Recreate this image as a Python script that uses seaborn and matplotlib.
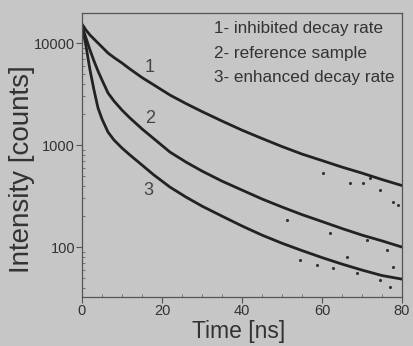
import numpy as np
import pandas as pd
import matplotlib
matplotlib.use("Agg")
import matplotlib.pyplot as plt
import matplotlib.ticker as mticker
import seaborn as sns

# ---- data ----
t1 = [0, 1, 2, 3, 4, 5, 6.5, 8, 10, 12, 15, 18, 22, 26, 30, 35, 40, 45, 50, 55, 60, 65, 70, 75, 80]
i1 = [15350, 13400, 11970, 10940, 10000, 9140, 7980, 7210, 6370, 5560, 4590, 3875, 3090,
      2550, 2130, 1720, 1400, 1160, 967, 816, 705, 608, 531, 459, 401]

t2 = [0, 1, 2, 3, 4, 5, 6.5, 8, 10, 12, 15, 18, 22, 26, 30, 35, 40, 45, 50, 55, 60, 65, 70, 75, 80]
i2 = [14680, 11200, 8530, 6660, 5320, 4340, 3240, 2700, 2200, 1840, 1440, 1150, 853,
      681, 556, 443, 362, 296, 247, 208, 178, 152, 131, 115, 100]

t3 = [0, 0.5, 1, 1.5, 2, 3, 4, 5, 6.5, 8, 10, 12, 15, 18, 22, 26, 30, 35, 40, 45, 50,
      55, 60, 65, 70, 75, 80]
i3 = [14680, 11720, 9350, 7130, 5440, 3460, 2310, 1800, 1340, 1120, 935, 798, 637, 508,
      387, 309, 252, 201, 161, 131, 109, 92.4, 78.9, 68.1, 59.5, 52.6, 48.5]

# scattered measured points visible off the fit lines (late times)
dots1_t = [60.25, 67, 70.25, 74.5, 77.75, 79, 72]
dots1_i = [531, 424, 424, 362, 276, 258, 475]
dots2_t = [51.25, 62, 71.25, 76.25]
dots2_i = [184, 137, 117, 93.5]
dots3_t = [54.5, 58.75, 62.75, 68.75, 74.5, 77, 66.25, 77.75]
dots3_i = [74.6, 66.7, 62.3, 55.6, 47.4, 40.5, 79.8, 63.7]

curve_ids = ["1", "2", "3"]
curve_label_pos = [(17, 5820), (17, 1840), (16.5, 362)]
legend_lines = ["1- inhibited decay rate", "2- reference sample", "3- enhanced decay rate"]
x_ticks = [0, 20, 40, 60, 80]
y_ticks = [100, 1000, 10000]

df = pd.concat([
    pd.DataFrame({"t": t1, "I": i1, "curve": "1"}),
    pd.DataFrame({"t": t2, "I": i2, "curve": "2"}),
    pd.DataFrame({"t": t3, "I": i3, "curve": "3"}),
])
dots = pd.DataFrame({"t": dots1_t + dots2_t + dots3_t,
                     "I": dots1_i + dots2_i + dots3_i})

sns.set_theme(style="ticks")
plt.rcParams["font.family"] = ["Liberation Sans", "DejaVu Sans"]

bg = "#c6c6c6"
fig = plt.figure(figsize=(4.14, 3.46), dpi=100, facecolor=bg)
ax = fig.add_axes([82/414, 49/346, 320/414, 284/346])
ax.set_facecolor(bg)

sns.lineplot(data=df, x="t", y="I", hue="curve", palette=["#222222"]*3,
             linewidth=2.0, legend=False, ax=ax)
sns.scatterplot(data=dots, x="t", y="I", color="#333333", s=5, linewidth=0, ax=ax)

ax.set_yscale("log")
ax.set_xlim(0, 80)
ax.set_ylim(32.4, 19700)
ax.set_xticks(x_ticks)
ax.set_xticklabels([str(v) for v in x_ticks])
ax.set_yticks(y_ticks)
ax.set_yticklabels([str(v) for v in y_ticks])
ax.xaxis.set_minor_locator(mticker.MultipleLocator(5))
ax.yaxis.set_minor_locator(mticker.LogLocator(base=10, subs=np.arange(2, 10)))
ax.yaxis.set_minor_formatter(mticker.NullFormatter())

for s in ax.spines.values():
    s.set_visible(True)
    s.set_color("#555555")
    s.set_linewidth(0.9)

ax.tick_params(axis="both", which="major", direction="out", length=4, width=0.8,
               color="#555555", labelsize=10.5, labelcolor="#333333", pad=1)
ax.tick_params(axis="both", which="minor", direction="in", length=2.5, width=0.6,
               color="#666666")

ax.set_xlabel("Time [ns]", fontsize=16.5, color="#333333")
ax.set_ylabel("Intensity [counts]", fontsize=20, color="#333333")
ax.xaxis.set_label_coords(0.49, -0.08)
ax.yaxis.set_label_coords(-0.147, 0.45)

for cid, (x, y) in zip(curve_ids, curve_label_pos):
    ax.text(x, y, cid, fontsize=13, color="#444444", ha="center", va="center")

for k, line in enumerate(legend_lines):
    ax.text(0.4125, 0.945 - k * 0.086, line, transform=ax.transAxes,
            fontsize=12.3, color="#333333", ha="left", va="center")

fig.savefig("out.png", dpi=100, facecolor=bg)
